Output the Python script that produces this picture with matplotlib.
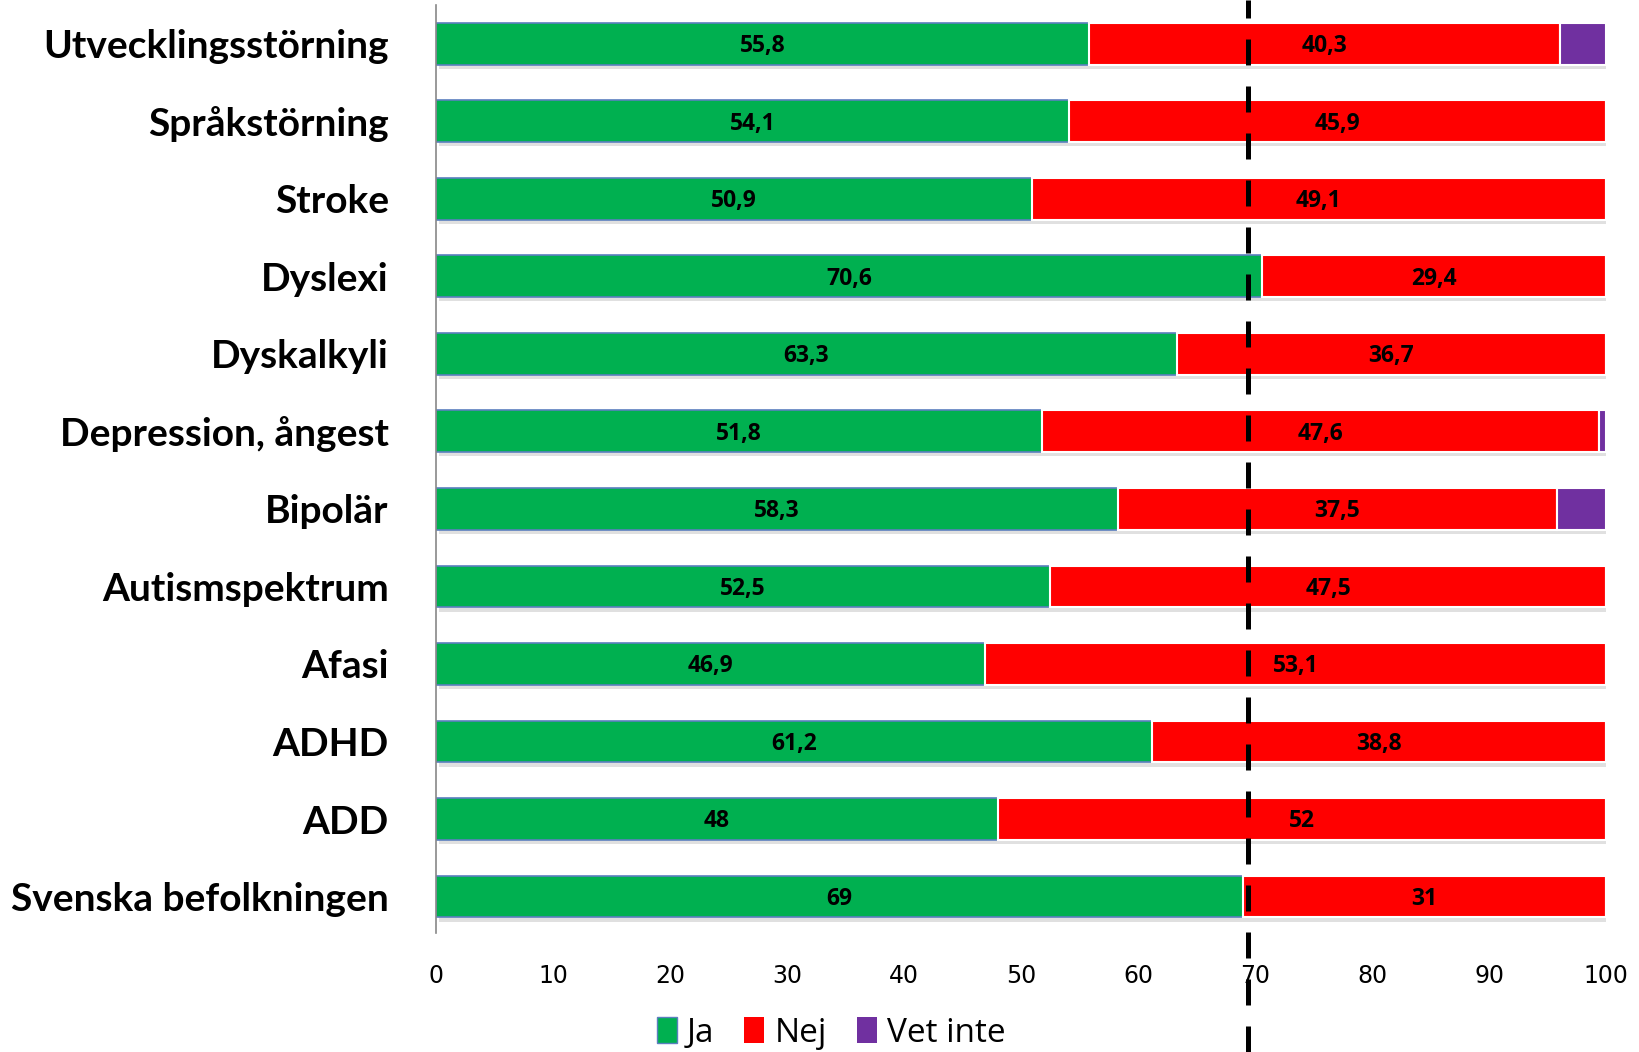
import numpy as np
import matplotlib.pyplot as plt
import matplotlib.patheffects as pe
from matplotlib.patches import Patch

# Data
categories = ["Utvecklingsstörning", "Språkstörning", "Stroke", "Dyslexi", "Dyskalkyli",
              "Depression, ångest", "Bipolär", "Autismspektrum", "Afasi", "ADHD", "ADD",
              "Svenska befolkningen"]
ja = [55.8, 54.1, 50.9, 70.6, 63.3, 51.8, 58.3, 52.5, 46.9, 61.2, 48, 69]
nej = [40.3, 45.9, 49.1, 29.4, 36.7, 47.6, 37.5, 47.5, 53.1, 38.8, 52, 31]
vet_inte = [3.9, 0, 0, 0, 0, 0.6, 4.2, 0, 0, 0, 0, 0]
ref_line = 69.4

c_ja, c_nej, c_vet = "#00B050", "#FF0000", "#7030A0"

fig = plt.figure(figsize=(16.39, 10.52), dpi=100)
ax = fig.add_axes([436 / 1639, 1 - 933 / 1052, (1606 - 436) / 1639, 928 / 1052])

y = np.arange(len(categories))
shadow = [pe.SimplePatchShadow(offset=(2, -3), shadow_rgbFace="#999999", alpha=0.3), pe.Normal()]
h = 0.54

b1 = ax.barh(y, ja, height=h, color=c_ja, edgecolor="#5B7FBF", linewidth=1.2)
b2 = ax.barh(y, nej, left=ja, height=h, color=c_nej, edgecolor="white", linewidth=1.5)
left3 = np.array(ja) + np.array(nej)
b3 = ax.barh(y, vet_inte, left=left3, height=h, color=c_vet, edgecolor="white", linewidth=1.5)
for bars in (b1, b2, b3):
    for p in bars:
        p.set_path_effects(shadow)

def fmt(v):
    s = f"{v:g}"
    return s.replace(".", ",")

lab_font = dict(family=["Open Sans", "DejaVu Sans"], fontweight="bold", fontsize=16.5, color="black")
for i in range(len(categories)):
    ax.text(ja[i] / 2, y[i] + 0.03, fmt(ja[i]), ha="center", va="center", **lab_font)
    ax.text(ja[i] + nej[i] / 2, y[i] + 0.03, fmt(nej[i]), ha="center", va="center", **lab_font)

ax.set_xlim(0, 100)
ax.set_ylim(len(categories) - 0.53, -0.5)
ax.set_yticks(y)
ax.set_yticklabels(categories, family=["Lato", "DejaVu Sans"], fontweight="bold", fontsize=28)
ax.tick_params(axis="y", length=0, pad=34)
ax.set_xticks(np.arange(0, 101, 10))
ax.tick_params(axis="x", length=0, pad=22, labelsize=17)
for t in ax.get_xticklabels():
    t.set_family(["Liberation Sans Narrow", "DejaVu Sans"])

for s in ["top", "right", "bottom"]:
    ax.spines[s].set_visible(False)
ax.spines["left"].set_color("#888888")
ax.spines["left"].set_linewidth(1.2)

# dashed reference line spanning the whole figure height
ax.axvline(ref_line, ymin=-(1052 - 933) / 928, ymax=1 + 5 / 928, color="black",
           linewidth=3.6, linestyle=(0, (5.2, 4.2)), clip_on=False, zorder=5)

handles = [Patch(facecolor=c_ja, edgecolor="#5B7FBF"), Patch(facecolor=c_nej), Patch(facecolor=c_vet)]
fig.legend(handles, ["Ja", "Nej", "Vet inte"], loc="center", bbox_to_anchor=(0.507, 1 - 1033 / 1052),
           ncol=3, frameon=False, prop={"family": ["Open Sans", "DejaVu Sans"], "size": 24},
           handlelength=0.6, handleheight=0.8, handletextpad=0.3, columnspacing=0.9)

fig.savefig("out.png", dpi=100)
